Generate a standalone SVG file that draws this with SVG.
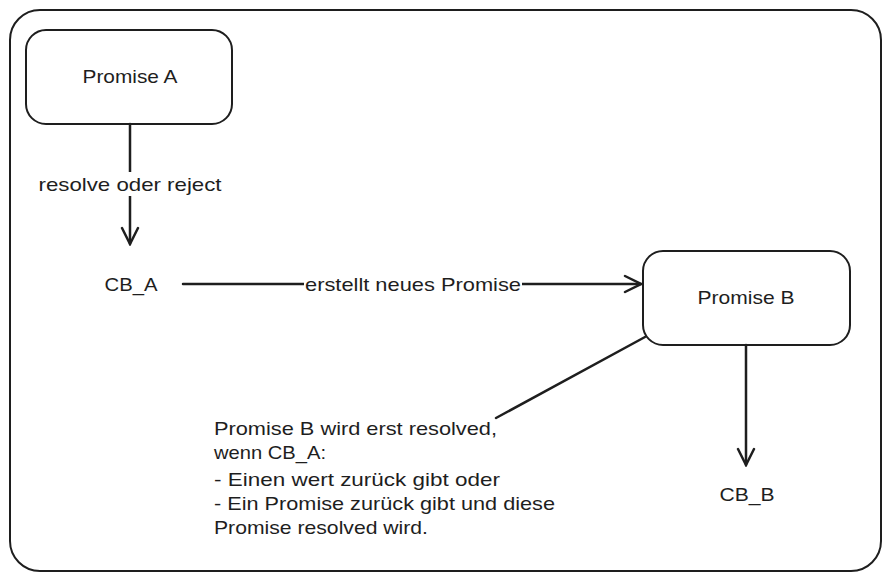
<svg xmlns="http://www.w3.org/2000/svg" width="891" height="581" viewBox="0 0 891 581">
<defs>
<style>
.box{fill:#fff;stroke:#1e1e1e;stroke-width:2}
.ln{fill:none;stroke:#1e1e1e;stroke-width:2.5;stroke-linecap:round;stroke-linejoin:round}
text{font-family:"Liberation Sans",sans-serif;fill:#1e1e1e;font-size:19px}
.lbl{fill:#fff}
</style>
<marker id="ah" viewBox="0 0 20 20" refX="18" refY="10" markerWidth="20" markerHeight="20" markerUnits="userSpaceOnUse" orient="auto">
<path d="M2,2 L18,10 L2,18" fill="none" stroke="#1e1e1e" stroke-width="2.5" stroke-linecap="round"/>
</marker>
</defs>
<rect width="891" height="581" fill="#fff"/>
<g id="frame"><rect x="10" y="10" width="871" height="561" rx="30" class="box"/></g>
<g id="promiseA"><rect x="26" y="30" width="206" height="94" rx="20" class="box"/><text x="130" y="83" text-anchor="middle" textLength="95" lengthAdjust="spacingAndGlyphs">Promise A</text></g>
<g id="cbA"><text x="131" y="291" text-anchor="middle" textLength="53" lengthAdjust="spacingAndGlyphs">CB_A</text></g>
<g id="promiseB"><rect x="643" y="251" width="207" height="94" rx="20" class="box"/><text x="746" y="304" text-anchor="middle" textLength="97" lengthAdjust="spacingAndGlyphs">Promise B</text></g>
<g id="cbB"><text x="747" y="501" text-anchor="middle" textLength="55" lengthAdjust="spacingAndGlyphs">CB_B</text></g>
<g id="note"><text x="214" y="435" textLength="283" lengthAdjust="spacingAndGlyphs">Promise B wird erst resolved,</text><text x="214" y="459" textLength="112" lengthAdjust="spacingAndGlyphs">wenn CB_A:</text><text x="214" y="486" textLength="286" lengthAdjust="spacingAndGlyphs">- Einen wert zurück gibt oder</text><text x="214" y="510" textLength="341" lengthAdjust="spacingAndGlyphs">- Ein Promise zurück gibt und diese</text><text x="214" y="534" textLength="214" lengthAdjust="spacingAndGlyphs">Promise resolved wird.</text></g>
<g id="connectors">
<path class="ln" d="M130,124 L130,244" marker-end="url(#ah)"/>
<rect class="lbl" x="34" y="172" width="190" height="24"/>
<text x="130" y="191" text-anchor="middle" textLength="183" lengthAdjust="spacingAndGlyphs">resolve oder reject</text>
<path class="ln" d="M183,284 L641,284" marker-end="url(#ah)"/>
<rect class="lbl" x="304" y="272" width="218" height="24"/>
<text x="413" y="291" text-anchor="middle" textLength="216" lengthAdjust="spacingAndGlyphs">erstellt neues Promise</text>
<path class="ln" d="M746,345 L746,465" marker-end="url(#ah)"/>
<path class="ln" d="M645,337 L496,418"/>
</g>
</svg>
